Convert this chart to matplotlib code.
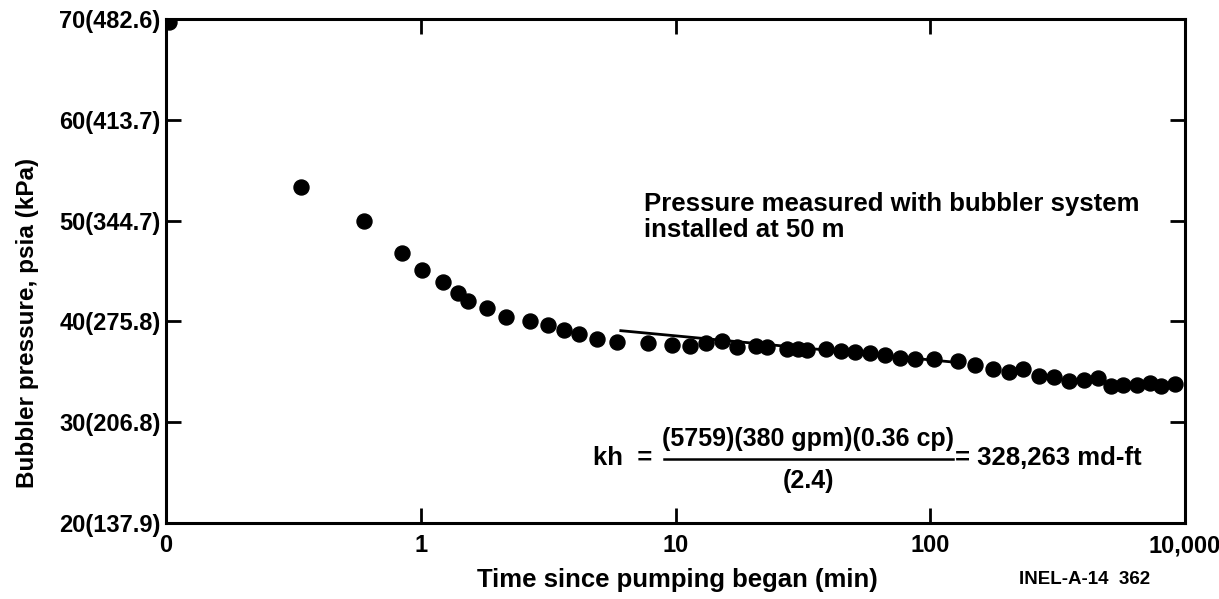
import matplotlib
matplotlib.use("Agg")
import matplotlib.pyplot as plt
import numpy as np

plt.rcParams['font.family'] = ['Liberation Sans', 'DejaVu Sans']

# Data (time in minutes, pressure in psia)
time_min = [0.103, 0.338, 0.597, 0.842, 1.01, 1.227, 1.396, 1.537, 1.825, 2.156,
            2.687, 3.148, 3.65, 4.18, 4.9, 5.9, 7.82, 9.7, 11.4, 13.2, 15.2,
            17.4, 20.7, 22.8, 27.3, 30.3, 32.9, 39.0, 44.5, 50.7, 58.0, 66.4,
            76.0, 87.0, 103.0, 129.0, 150.0, 176.0, 204.0, 232.0, 267.0, 307.0,
            351.0, 401.0, 457.0, 511.0, 569.0, 650.0, 728.0, 802.0, 913.0]
pressure_psia = [69.7, 53.36, 49.96, 46.76, 45.07, 43.88, 42.85, 42.06, 41.3, 40.47,
                 40.07, 39.61, 39.15, 38.72, 38.28, 37.99, 37.83, 37.66, 37.56, 37.83, 38.06,
                 37.43, 37.59, 37.49, 37.26, 37.23, 37.16, 37.23, 37.06, 36.99, 36.84, 36.67,
                 36.4, 36.27, 36.27, 36.04, 35.67, 35.25, 35.01, 35.25, 34.58, 34.45,
                 34.12, 34.19, 34.36, 33.59, 33.69, 33.69, 33.86, 33.59, 33.79]

fit_time = [6.1, 125.0]
fit_pressure = [39.08, 35.95]

x_ticks = [0.1, 1, 10, 100, 1000]
x_tick_labels = ["0", "1", "10", "100", "10,000"]
y_ticks = [20, 30, 40, 50, 60, 70]
y_tick_labels = ["20(137.9)", "30(206.8)", "40(275.8)", "50(344.7)", "60(413.7)", "70(482.6)"]

W, H = 1219, 599
fig = plt.figure(figsize=(W / 100, H / 100), dpi=100)
ax = fig.add_axes([166 / W, 1 - 523 / H, (1185 - 166) / W, (523 - 19) / H])

ax.set_xscale('log')
ax.set_xlim(0.1, 1000)
ax.set_ylim(20, 70)

ax.plot(time_min, pressure_psia, 'o', color='black', markersize=10.8, clip_on=True)
ax.plot(fit_time, fit_pressure, '-', color='black', linewidth=2.0)

ax.set_xticks(x_ticks)
ax.set_xticklabels(x_tick_labels)
ax.minorticks_off()
ax.set_yticks(y_ticks)
ax.set_yticklabels(y_tick_labels)

fs = 17
ft = 18.5
ax.tick_params(axis='both', which='major', direction='in', length=11, width=2.0,
               top=True, right=True, labelsize=fs, pad=4)
ax.tick_params(axis='x', pad=8)
for lbl in ax.get_xticklabels() + ax.get_yticklabels():
    lbl.set_fontweight('bold')

for sp in ax.spines.values():
    sp.set_linewidth(2.2)

def fx(px):
    return px / W

def fy(py):
    return 1 - py / H

fig.text(fx(28), fy(323), "Bubbler pressure, psia (kPa)", rotation=90, ha='center', va='center',
         fontsize=17.5, fontweight='bold')
fig.text(fx(677), fy(580), "Time since pumping began (min)", ha='center', va='center',
         fontsize=ft, fontweight='bold')
fig.text(fx(1085), fy(580), "INEL-A-14  362", ha='center', va='center',
         fontsize=13.5, fontweight='bold')

fig.text(fx(644), fy(217), "Pressure measured with bubbler system\ninstalled at 50 m",
         ha='left', va='center', fontsize=ft, fontweight='bold', linespacing=1.15)

# kh formula
fig.text(fx(652), fy(458), "kh  =", ha='right', va='center', fontsize=ft, fontweight='bold')
fig.text(fx(808), fy(439), "(5759)(380 gpm)(0.36 cp)", ha='center', va='center',
         fontsize=18, fontweight='bold')
fig.text(fx(808), fy(481), "(2.4)", ha='center', va='center', fontsize=18, fontweight='bold')
fig.add_artist(plt.Line2D([fx(664), fx(953)], [fy(459), fy(459)], color='black', linewidth=1.8))
fig.text(fx(955), fy(458), "= 328,263 md-ft", ha='left', va='center', fontsize=ft, fontweight='bold')

fig.savefig("out.png", dpi=100)
